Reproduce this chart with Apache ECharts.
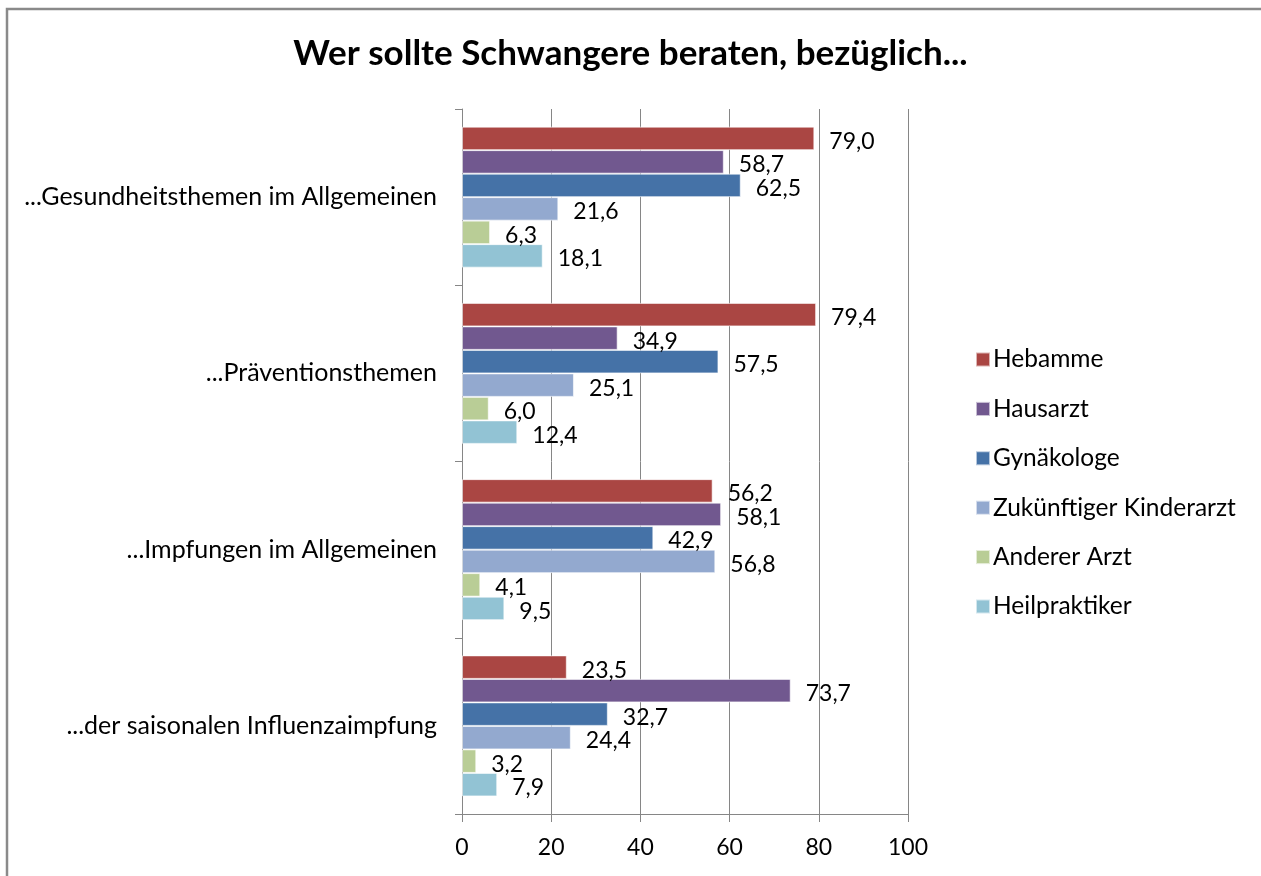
<!DOCTYPE html>
<html>
<head>
<meta charset="utf-8">
<script src="https://cdn.jsdelivr.net/npm/echarts@6/dist/echarts.min.js"></script>
<style>html,body{margin:0;padding:0;background:#fff;}#c{width:1261px;height:876px;}</style>
</head>
<body>
<div id="c"></div>
<script>
const categories = ['...Gesundheitsthemen im Allgemeinen', '...Präventionsthemen', '...Impfungen im Allgemeinen', '...der saisonalen Influenzaimpfung'];
const seriesNames = ['Hebamme', 'Hausarzt', 'Gynäkologe', 'Zukünftiger Kinderarzt', 'Anderer Arzt', 'Heilpraktiker'];
const hebamme = [79.0, 79.4, 56.2, 23.5];
const hausarzt = [58.7, 34.9, 58.1, 73.7];
const gynaekologe = [62.5, 57.5, 42.9, 32.7];
const kinderarzt = [21.6, 25.1, 56.8, 24.4];
const andererArzt = [6.3, 6.0, 4.1, 3.2];
const heilpraktiker = [18.1, 12.4, 9.5, 7.9];
const xTicks = [0, 20, 40, 60, 80, 100];
const colors = ['#AA4643', '#71588F', '#4572A7', '#93A9CF', '#B9CD96', '#92C3D4'];

const seriesData = [hebamme, hausarzt, gynaekologe, kinderarzt, andererArzt, heilpraktiker];
const FONT = 'Lato, "Open Sans", sans-serif';

const chart = echarts.init(document.getElementById('c'), null, {renderer: 'canvas'});
chart.setOption({
  animation: false,
  backgroundColor: '#fff',
  color: colors,
  textStyle: {fontFamily: FONT},
  title: {
    text: 'Wer sollte Schwangere beraten, bezüglich...',
    left: 'center',
    top: 31,
    textStyle: {fontFamily: FONT, fontWeight: 'bold', fontSize: 35, color: '#000'}
  },
  graphic: [{
    type: 'rect',
    shape: {x: 7, y: 9, width: 1400, height: 1000},
    style: {fill: 'none', stroke: '#8a8a8a', lineWidth: 2.5},
    silent: true
  }],
  legend: {
    orient: 'vertical',
    left: 970,
    top: 342,
    icon: 'rect',
    itemWidth: 14,
    itemHeight: 14,
    itemGap: 24.4,
    textStyle: {fontFamily: FONT, fontSize: 24.5, color: '#000', lineHeight: 24, padding: [0, 0, 0, -2]},
    data: seriesNames
  },
  grid: {left: 462, right: 353, top: 109, bottom: 62, containLabel: false},
  xAxis: {
    type: 'value',
    min: xTicks[0],
    max: xTicks[xTicks.length - 1],
    interval: 20,
    axisLine: {show: true, lineStyle: {color: '#868686', width: 1}},
    axisTick: {show: true, length: 8, lineStyle: {color: '#868686'}},
    splitLine: {show: true, lineStyle: {color: '#868686', width: 1}},
    axisLabel: {fontFamily: FONT, fontSize: 23, color: '#000', margin: 22}
  },
  yAxis: {
    type: 'category',
    inverse: true,
    data: categories,
    axisLine: {show: true, lineStyle: {color: '#868686', width: 1}},
    axisTick: {show: true, length: 7, inside: false, lineStyle: {color: '#868686'}},
    axisLabel: {fontFamily: FONT, fontSize: 25, color: '#000', margin: 25}
  },
  series: seriesNames.map((name, i) => ({
    name: name,
    type: 'bar',
    data: seriesData[i],
    barGap: 0,
    barCategoryGap: '20%',
    itemStyle: {color: colors[i], borderColor: 'rgba(255,255,255,0.6)', borderWidth: 1},
    label: {
      show: true,
      position: 'right',
      distance: 15,
      offset: [0, 3],
      fontFamily: FONT,
      fontSize: 23,
      color: '#000',
      formatter: p => p.value.toFixed(1).replace('.', ',')
    }
  }))
});
</script>
</body>
</html>
